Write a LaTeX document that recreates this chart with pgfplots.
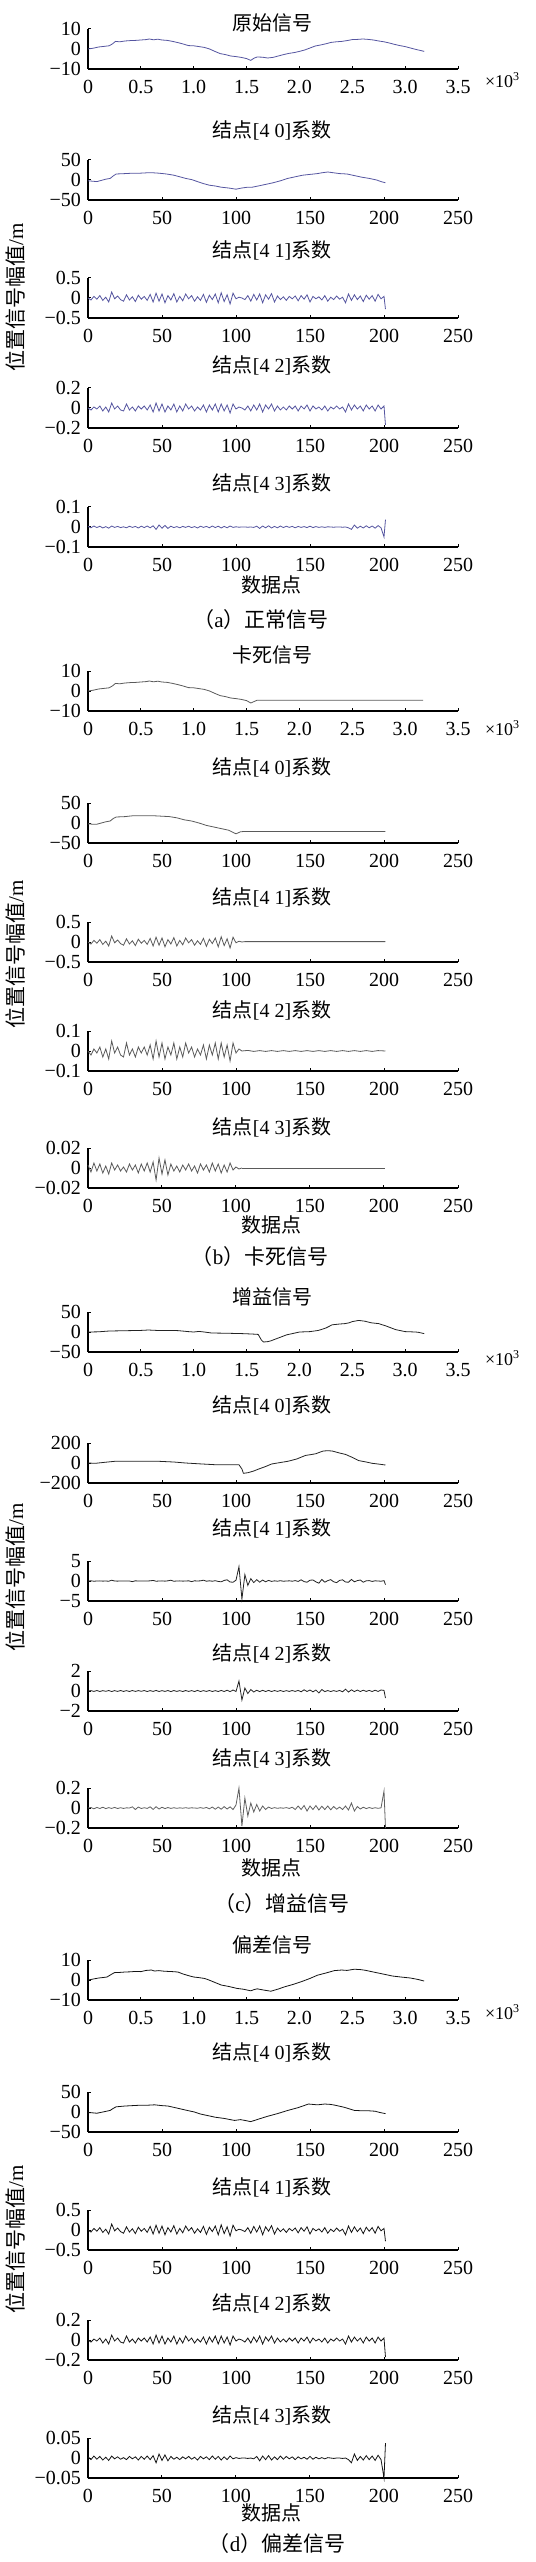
\documentclass[border=0pt]{standalone}
\usepackage{pgfplots}
\usepackage{pgfplotstable}
\pgfplotsset{compat=1.18}
\usepackage{fontspec}
\setmainfont{Liberation Serif}
\newfontfamily\cjk{Noto Sans CJK SC}

\definecolor{acol}{RGB}{85,85,160}
\definecolor{bcol}{RGB}{90,90,90}
\definecolor{ccol}{RGB}{35,35,35}
\definecolor{c5col}{RGB}{95,95,95}
\definecolor{dcol}{RGB}{20,20,20}

% coefficients of the detail nodes: x, normal [4 1..3], gain [4 1..3]
\pgfplotstableread{
x a3 a4 a5 c3 c4 c5
0 0.00 0.00 0.003 0.0 0.0 0.0
2 -0.05 -0.02 -0.004 0.05 0.04 0.005
4 0.04 0.01 0.005 -0.05 -0.04 -0.008
6 -0.03 -0.01 -0.003 0.0 0.05 0.006
8 0.06 0.02 0.004 0.03 -0.05 -0.005
10 -0.06 -0.03 -0.005 -0.03 0.04 0.008
12 0.02 0.01 0.002 0.0 -0.03 -0.006
14 -0.10 -0.04 -0.006 -0.05 0.05 0.004
16 0.15 0.05 0.005 0.2 -0.05 -0.004
18 -0.02 -0.01 -0.002 0.0 0.04 0.006
20 0.05 0.02 0.003 -0.03 -0.04 -0.005
22 -0.04 -0.02 -0.003 0.02 0.05 0.003
24 -0.08 -0.03 0.001 0.0 -0.04 -0.004
26 0.08 0.04 -0.004 -0.02 0.04 0.002
28 -0.05 -0.02 0.004 0.0 -0.05 0.0
30 0.03 0.01 -0.002 -0.15 0.05 0.012
32 -0.09 -0.03 0.003 0.05 -0.04 -0.015
34 0.07 0.02 -0.005 0.0 0.04 0.01
36 -0.03 -0.01 0.004 0.02 -0.03 -0.005
38 0.04 0.02 -0.003 -0.02 0.05 0.003
40 -0.06 -0.02 0.005 0.0 -0.05 -0.004
42 0.09 0.03 -0.004 0.05 0.04 0.012
44 -0.10 -0.04 0.006 0.15 -0.04 -0.014
46 0.12 0.05 -0.012 -0.05 0.06 0.013
48 -0.08 -0.03 0.010 0.0 -0.05 -0.01
50 0.10 0.04 -0.006 0.03 0.04 0.008
52 -0.12 -0.04 0.008 -0.03 -0.04 -0.006
54 0.06 0.02 -0.007 0.05 0.05 0.005
56 -0.05 -0.02 0.004 0.2 -0.06 -0.004
58 0.11 0.04 -0.003 -0.05 0.05 0.003
60 -0.10 -0.04 0.002 0.0 -0.04 -0.003
62 0.04 0.02 -0.004 0.03 0.04 0.002
64 -0.07 -0.03 0.003 -0.03 -0.05 -0.002
66 0.10 0.04 -0.002 0.0 0.05 0.003
68 -0.02 -0.01 0.004 0.05 -0.04 -0.002
70 0.06 0.02 -0.003 -0.15 0.04 0.002
72 -0.08 -0.03 0.002 0.05 -0.05 0.0
74 0.03 0.01 -0.005 0.0 0.06 -0.002
76 -0.06 -0.02 0.004 0.05 -0.05 0.004
78 0.09 0.03 -0.002 0.2 0.04 -0.003
80 -0.11 -0.04 0.003 -0.05 -0.04 0.006
82 0.07 0.03 -0.004 0.05 0.05 -0.008
84 -0.04 -0.02 0.005 -0.05 -0.05 0.01
86 0.10 0.04 -0.003 0.08 0.04 -0.012
88 -0.12 -0.04 0.004 -0.1 -0.05 0.01
90 0.13 0.04 -0.005 -0.2 0.06 -0.012
92 -0.09 -0.03 0.003 0.15 -0.05 0.014
94 0.08 0.03 -0.004 0.3 0.08 -0.01
96 -0.15 -0.05 0.005 -0.25 -0.06 0.012
98 0.12 0.04 -0.002 -0.3 0.1 -0.015
100 -0.02 -0.01 0.001 0.2 -0.05 0.03
102 0.02 0.01 -0.001 3.6 1.0 0.2
104 0.00 0.00 0.000 -4.5 -0.9 -0.18
106 -0.04 -0.02 0.000 1.6 0.3 0.1
108 0.06 0.02 -0.001 -1.1 -0.25 -0.08
110 -0.08 -0.03 0.000 0.6 0.15 0.05
112 0.09 0.03 -0.002 -0.4 -0.1 -0.04
114 -0.05 -0.02 0.004 0.35 0.08 0.035
116 0.10 0.04 -0.007 -0.3 -0.06 -0.03
118 -0.12 -0.04 0.005 0.25 0.07 0.02
120 0.08 0.03 -0.004 -0.2 -0.05 -0.015
122 -0.03 -0.01 0.006 0.15 0.06 0.01
124 0.11 0.04 -0.005 -0.1 -0.05 -0.005
126 -0.10 -0.03 0.003 0.05 0.05 0.004
128 0.05 0.02 -0.004 -0.05 -0.04 -0.003
130 -0.04 -0.02 0.005 0.08 0.05 0.002
132 0.03 0.01 -0.003 -0.05 -0.05 -0.002
134 -0.06 -0.02 0.004 0.0 0.04 0.004
136 0.04 0.02 -0.002 0.05 -0.04 -0.004
138 -0.02 -0.01 0.003 -0.05 0.05 0.008
140 0.05 0.02 -0.004 0.1 -0.04 -0.015
142 -0.07 -0.03 0.003 -0.1 0.06 0.02
144 0.06 0.02 -0.002 0.3 -0.08 -0.015
146 -0.03 -0.01 0.002 -0.15 0.12 0.025
148 0.08 0.03 -0.003 -0.3 -0.05 -0.03
150 -0.10 -0.03 0.004 0.2 0.1 0.02
152 0.04 0.02 -0.003 0.25 -0.08 -0.015
154 -0.02 -0.01 0.002 -0.2 0.1 0.025
156 0.03 0.01 -0.002 -0.55 -0.2 -0.02
158 -0.05 -0.02 0.001 0.4 0.15 0.018
160 0.06 0.02 -0.002 -0.3 -0.06 -0.015
162 -0.08 -0.03 0.001 0.1 0.05 0.02
164 0.02 0.01 0.000 0.35 -0.05 -0.018
166 -0.04 -0.01 -0.001 -0.2 0.04 0.015
168 0.05 0.02 0.000 -0.4 -0.04 -0.012
170 -0.03 -0.01 0.000 0.15 0.06 0.01
172 0.02 0.01 -0.001 0.3 -0.08 -0.015
174 -0.12 -0.04 0.000 -0.25 0.18 0.02
176 0.10 0.04 -0.004 -0.3 -0.1 -0.02
178 -0.06 -0.02 -0.012 0.4 0.12 0.05
180 0.08 0.03 0.010 -0.2 -0.06 -0.03
182 -0.04 -0.01 -0.006 0.1 0.1 0.015
184 0.05 0.02 0.004 0.25 -0.05 -0.01
186 -0.09 -0.03 -0.005 -0.3 0.08 0.008
188 0.07 0.03 0.006 0.05 -0.04 -0.006
190 -0.03 -0.01 -0.004 0.1 0.06 0.005
192 0.06 0.02 0.005 -0.1 -0.05 -0.004
194 -0.08 -0.03 -0.006 0.05 0.08 0.003
196 0.09 0.03 0.007 0.0 -0.04 -0.003
198 -0.02 -0.01 -0.004 -0.05 0.1 0.002
200 0.04 0.02 -0.05 0.1 0.06 0.17
201 -0.28 -0.17 0.037 -0.9 -0.7 -0.2
}\coef

\pgfplotsset{
  sub/.style={
    scale only axis, width=185pt, height=20pt, anchor=south west,
    axis x line=bottom, axis y line=left,
    axis line style={-, line width=0.6pt},
    tick align=inside, major tick length=1.6pt,
    tick style={line width=0.5pt, black},
    xmin=0, xmax=250, xtick={0,50,100,150,200,250},
    xticklabels={0,50,100,150,200,250},
    scaled x ticks=false, scaled y ticks=false,
    enlargelimits=false, clip=false,
    ticklabel style={font=\fontsize{10}{10}\selectfont},
    xticklabel style={yshift=-2pt},
    every axis plot/.append style={line width=0.4pt},
  },
  first/.style={sub, xmax=3.5, xtick={0,0.5,1,1.5,2,2.5,3,3.5},
    xticklabels={0,0.5,1.0,1.5,2.0,2.5,3.0,3.5}},
}
\newcommand{\jd}[1]{{\cjk 结点}[4 #1]{\cjk 系数}}
\newcommand{\ttl}[2]{\node[font=\fontsize{10}{12}\selectfont] at (136pt,#1pt) {#2};}

\begin{document}
\begin{tikzpicture}
\path[use as bounding box] (0,0) rectangle (267.5pt,-1281pt);

% ---------------- (a) normal
\ttl{-11.5}{\cjk 原始信号}
\begin{axis}[first, at={(44pt,-34.5pt)}, ymin=-10, ymax=10, ytick={-10,0,10}, yticklabels={−10,0,10}]
\addplot[acol] coordinates {(0,0) (0.05,0.4) (0.1,1.0) (0.15,1.3) (0.2,1.6) (0.23,2.5) (0.26,3.8) (0.3,3.6) (0.35,4.0) (0.4,4.2) (0.45,4.3) (0.5,4.5) (0.55,4.7) (0.58,5.0) (0.62,4.6) (0.66,4.9) (0.7,4.5) (0.75,4.3) (0.8,3.8) (0.85,3.2) (0.9,2.5) (0.95,1.7) (1.0,1.6) (1.05,1.2) (1.1,0.8) (1.15,0) (1.2,-1.2) (1.25,-2.3) (1.3,-2.8) (1.35,-3.5) (1.4,-3.8) (1.45,-4.2) (1.5,-4.8) (1.54,-5.7) (1.57,-4.6) (1.6,-4.0) (1.65,-4.1) (1.7,-4.5) (1.75,-4.2) (1.8,-3.5) (1.85,-2.8) (1.9,-2.2) (1.95,-1.8) (2.0,-1.2) (2.05,-0.5) (2.1,0.5) (2.15,1.5) (2.2,2.0) (2.25,2.6) (2.3,3.3) (2.35,3.6) (2.4,3.8) (2.45,4.2) (2.5,4.7) (2.55,4.8) (2.6,5.0) (2.65,4.8) (2.7,4.5) (2.75,4.0) (2.8,3.6) (2.85,3.0) (2.9,2.3) (2.95,1.7) (3.0,1.2) (3.05,0.5) (3.1,-0.2) (3.15,-0.8) (3.18,-1.2)};
\end{axis}
\node[anchor=west, font=\fontsize{9}{9}\selectfont] at (239pt,-40pt) {×10\textsuperscript{3}};

\ttl{-65}{\jd{0}}
\begin{axis}[sub, at={(44pt,-100pt)}, ymin=-50, ymax=50, ytick={-50,0,50}, yticklabels={−50,0,50}]
\addplot[acol] coordinates {(0,-2) (3,-3) (6,-4) (9,-1) (12,2) (15,4) (17,10) (19,15) (25,16) (30,17) (35,17) (40,18) (44,18) (48,17) (53,15) (58,12) (62,8) (66,4) (70,1) (74,-4) (78,-9) (82,-13) (86,-15) (90,-18) (95,-20) (100,-23) (104,-20) (108,-18) (111,-18) (115,-15) (120,-11) (125,-7) (130,-2) (135,4) (140,8) (145,12) (150,14) (155,16) (158,18) (162,20) (166,18) (170,16) (175,15) (180,11) (185,7) (190,4) (195,0) (198,-4) (201,-7)};
\end{axis}

\ttl{-125}{\jd{1}}
\begin{axis}[sub, at={(44pt,-159pt)}, ymin=-0.5, ymax=0.5, ytick={-0.5,0,0.5}, yticklabels={−0.5,0,0.5}]
\addplot[acol] table[x=x, y=a3] {\coef};
\end{axis}

\ttl{-182.5}{\jd{2}}
\begin{axis}[sub, at={(44pt,-214pt)}, ymin=-0.2, ymax=0.2, ytick={-0.2,0,0.2}, yticklabels={−0.2,0,0.2}]
\addplot[acol] table[x=x, y=a4] {\coef};
\end{axis}

\ttl{-241.5}{\jd{3}}
\begin{axis}[sub, at={(44pt,-273.5pt)}, ymin=-0.1, ymax=0.1, ytick={-0.1,0,0.1}, yticklabels={−0.1,0,0.1}]
\addplot[acol] table[x=x, y=a5] {\coef};
\end{axis}
\node[font=\fontsize{10}{12}\selectfont] at (135.5pt,-292.5pt) {\cjk 数据点};
\node[font=\fontsize{10.5}{12}\selectfont] at (130.5pt,-310pt) {{\cjk （}a{\cjk ）正常信号}};
\node[rotate=90, font=\fontsize{10.5}{12}\selectfont] at (7.5pt,-148.5pt) {{\cjk 位置信号幅值}/m};

% ---------------- (b) stuck
\ttl{-327.5}{\cjk 卡死信号}
\begin{axis}[first, at={(44pt,-355.5pt)}, ymin=-10, ymax=10, ytick={-10,0,10}, yticklabels={−10,0,10}]
\addplot[bcol] coordinates {(0,0) (0.05,0.4) (0.1,1.0) (0.15,1.3) (0.2,1.6) (0.23,2.5) (0.26,3.8) (0.3,3.6) (0.35,4.0) (0.4,4.2) (0.45,4.3) (0.5,4.5) (0.55,4.7) (0.58,5.0) (0.62,4.6) (0.66,4.9) (0.7,4.5) (0.75,4.3) (0.8,3.8) (0.85,3.2) (0.9,2.5) (0.95,1.7) (1.0,1.6) (1.05,1.2) (1.1,0.8) (1.15,0) (1.2,-1.2) (1.25,-2.3) (1.3,-2.8) (1.35,-3.5) (1.4,-3.8) (1.45,-4.2) (1.5,-4.8) (1.54,-6.0) (1.6,-4.6) (3.17,-4.6)};
\end{axis}
\node[anchor=west, font=\fontsize{9}{9}\selectfont] at (239pt,-364pt) {×10\textsuperscript{3}};

\ttl{-383.5}{\jd{0}}
\begin{axis}[sub, at={(44pt,-421.5pt)}, ymin=-50, ymax=50, ytick={-50,0,50}, yticklabels={−50,0,50}]
\addplot[bcol] coordinates {(0,-2) (3,-3) (6,-3) (9,0) (12,3) (15,5) (17,11) (19,15) (25,16) (30,18) (35,18) (40,18) (45,18) (50,17) (55,16) (60,13) (65,8) (70,5) (75,0) (80,-6) (85,-10) (90,-14) (95,-18) (100,-27) (103,-22) (106,-21) (201,-21)};
\end{axis}

\ttl{-448.5}{\jd{1}}
\begin{axis}[sub, at={(44pt,-481pt)}, ymin=-0.5, ymax=0.5, ytick={-0.5,0,0.5}, yticklabels={−0.5,0,0.5}]
\addplot[bcol, restrict x to domain=0:104] table[x=x, y=a3] {\coef};
\addplot[bcol] coordinates {(104,0) (106,0.01) (201,0.01)};
\end{axis}

\ttl{-505}{\jd{2}}
\begin{axis}[sub, at={(44pt,-535.5pt)}, ymin=-0.1, ymax=0.1, ytick={-0.1,0,0.1}, yticklabels={−0.1,0,0.1}]
\addplot[bcol, restrict x to domain=0:104] table[x=x, y=a4] {\coef};
\addplot[bcol] coordinates {(104,0) (108,0.003) (112,-0.002) (116,0.002) (120,-0.002) (124,0.002) (128,-0.002) (132,0.002) (136,-0.002) (140,0.002) (144,-0.002) (148,0.002) (152,-0.002) (156,0.002) (160,-0.002) (164,0.002) (168,-0.002) (172,0.002) (176,-0.002) (180,0.002) (184,-0.002) (188,0.002) (192,-0.002) (196,0.002) (201,0)};
\end{axis}

\ttl{-563.5}{\jd{3}}
\begin{axis}[sub, at={(44pt,-594pt)}, ymin=-0.02, ymax=0.02, ytick={-0.02,0,0.02}, yticklabels={−0.02,0,0.02}]
\addplot[bcol, restrict x to domain=0:104] table[x=x, y=a5] {\coef};
\addplot[bcol] coordinates {(104,0) (201,0)};
\end{axis}
\node[font=\fontsize{10}{12}\selectfont] at (135.5pt,-612.5pt) {\cjk 数据点};
\node[font=\fontsize{10.5}{12}\selectfont] at (130pt,-628.5pt) {{\cjk （}b{\cjk ）卡死信号}};
\node[rotate=90, font=\fontsize{10.5}{12}\selectfont] at (7.5pt,-477pt) {{\cjk 位置信号幅值}/m};

% ---------------- (c) gain
\ttl{-648.5}{\cjk 增益信号}
\begin{axis}[first, at={(44pt,-676pt)}, ymin=-50, ymax=50, ytick={-50,0,50}, yticklabels={−50,0,50}]
\addplot[ccol] coordinates {(0,0) (0.1,0.5) (0.2,2.5) (0.3,3) (0.4,3.5) (0.5,4) (0.57,5) (0.65,4) (0.73,4) (0.85,3.5) (0.95,1) (1.0,0) (1.05,1.5) (1.1,0) (1.17,-2.5) (1.3,-3) (1.46,-4) (1.55,-5) (1.61,-6) (1.64,-20) (1.66,-25) (1.7,-24) (1.73,-22) (1.8,-15) (1.88,-7) (1.95,-3) (2.0,0) (2.1,1) (2.18,4) (2.25,10) (2.31,18) (2.38,20) (2.43,21) (2.47,23) (2.5,26) (2.56,29) (2.62,27) (2.68,23) (2.75,21) (2.82,15) (2.91,6) (3.0,1) (3.1,0) (3.13,-1) (3.18,-4)};
\end{axis}
\node[anchor=west, font=\fontsize{9}{9}\selectfont] at (239pt,-679pt) {×10\textsuperscript{3}};

\ttl{-702.5}{\jd{0}}
\begin{axis}[sub, at={(44pt,-741.5pt)}, ymin=-200, ymax=200, ytick={-200,0,200}, yticklabels={−200,0,200}]
\addplot[ccol] coordinates {(0,0) (5,-3) (10,5) (18,17) (30,17) (48,17) (58,10) (66,0) (75,-8) (86,-17) (95,-17) (102,-17) (104,-60) (105,-103) (108,-97) (112,-80) (115,-62) (120,-35) (124,-10) (130,5) (135,17) (141,40) (147,76) (151,85) (154,93) (157,110) (159,120) (162,123) (165,120) (170,100) (174,86) (178,60) (183,24) (188,10) (192,-3) (196,-10) (201,-20)};
\end{axis}

\ttl{-764}{\jd{1}}
\begin{axis}[sub, at={(44pt,-800.5pt)}, ymin=-5, ymax=5, ytick={-5,0,5}, yticklabels={−5,0,5}]
\addplot[ccol] table[x=x, y=c3] {\coef};
\end{axis}

\ttl{-826.5}{\jd{2}}
\begin{axis}[sub, at={(44pt,-855.5pt)}, ymin=-2, ymax=2, ytick={-2,0,2}, yticklabels={−2,0,2}]
\addplot[ccol] table[x=x, y=c4] {\coef};
\end{axis}

\ttl{-879}{\jd{3}}
\begin{axis}[sub, at={(44pt,-914pt)}, ymin=-0.2, ymax=0.2, ytick={-0.2,0,0.2}, yticklabels={−0.2,0,0.2}]
\addplot[c5col] table[x=x, y=c5] {\coef};
\end{axis}
\node[font=\fontsize{10}{12}\selectfont] at (135.5pt,-934pt) {\cjk 数据点};
\node[font=\fontsize{10.5}{12}\selectfont] at (141pt,-951.5pt) {{\cjk （}c{\cjk ）增益信号}};
\node[rotate=90, font=\fontsize{10.5}{12}\selectfont] at (7.5pt,-788.5pt) {{\cjk 位置信号幅值}/m};

% ---------------- (d) bias
\ttl{-972.5}{\cjk 偏差信号}
\begin{axis}[first, at={(44pt,-1000pt)}, ymin=-10, ymax=10, ytick={-10,0,10}, yticklabels={−10,0,10}]
\addplot[dcol] coordinates {(0,0) (0.05,0.5) (0.1,1.0) (0.15,1.3) (0.18,1.5) (0.22,2.8) (0.25,3.7) (0.3,3.8) (0.35,4.0) (0.4,4.1) (0.45,4.3) (0.5,4.2) (0.55,4.8) (0.6,5.0) (0.63,4.5) (0.67,4.7) (0.72,4.4) (0.8,4.2) (0.85,4.0) (0.9,3.0) (0.95,2.2) (1.0,1.5) (1.05,1.2) (1.1,0.8) (1.13,0.3) (1.2,-1.2) (1.26,-2.5) (1.33,-3.2) (1.41,-4.2) (1.47,-4.6) (1.54,-5.4) (1.57,-4.8) (1.6,-4.4) (1.66,-5.0) (1.73,-5.6) (1.8,-4.5) (1.86,-3.4) (1.94,-2.2) (2.02,-0.8) (2.1,0.8) (2.17,2.4) (2.25,3.5) (2.33,4.7) (2.4,5.0) (2.45,4.8) (2.52,5.4) (2.58,5.2) (2.62,4.9) (2.7,4.0) (2.8,2.9) (2.88,2.0) (2.96,1.5) (3.05,1.0) (3.12,0.3) (3.18,-0.5)};
\end{axis}
\node[anchor=west, font=\fontsize{9}{9}\selectfont] at (239pt,-1006pt) {×10\textsuperscript{3}};

\ttl{-1026}{\jd{0}}
\begin{axis}[sub, at={(44pt,-1066pt)}, ymin=-50, ymax=50, ytick={-50,0,50}, yticklabels={−50,0,50}]
\addplot[dcol] coordinates {(0,-2) (3,-2) (6,-3) (10,0) (15,4) (17,9) (19,13) (25,15) (30,16) (35,17) (40,17) (45,18) (50,16) (54,15) (60,10) (67,4) (72,0) (76,-5) (81,-9) (86,-13) (92,-16) (99,-21) (103,-19) (106,-21) (110,-24) (115,-18) (121,-11) (128,-4) (135,4) (142,11) (149,20) (155,18) (160,20) (164,19) (167,17) (173,12) (180,4) (186,3) (190,3) (194,2) (197,-1) (201,-4)};
\end{axis}

\ttl{-1093.5}{\jd{1}}
\begin{axis}[sub, at={(44pt,-1125pt)}, ymin=-0.5, ymax=0.5, ytick={-0.5,0,0.5}, yticklabels={−0.5,0,0.5}]
\addplot[dcol] table[x=x, y=a3] {\coef};
\end{axis}

\ttl{-1151.5}{\jd{2}}
\begin{axis}[sub, at={(44pt,-1180pt)}, ymin=-0.2, ymax=0.2, ytick={-0.2,0,0.2}, yticklabels={−0.2,0,0.2}]
\addplot[dcol] table[x=x, y=a4] {\coef};
\end{axis}

\ttl{-1207.5}{\jd{3}}
\begin{axis}[sub, at={(44pt,-1239pt)}, ymin=-0.05, ymax=0.05, ytick={-0.05,0,0.05}, yticklabels={−0.05,0,0.05}]
\addplot[dcol] table[x=x, y=a5] {\coef};
\end{axis}
\node[font=\fontsize{10}{12}\selectfont] at (135.5pt,-1256.5pt) {\cjk 数据点};
\node[font=\fontsize{10.5}{12}\selectfont] at (138.5pt,-1271.5pt) {{\cjk （}d{\cjk ）偏差信号}};
\node[rotate=90, font=\fontsize{10.5}{12}\selectfont] at (7.5pt,-1119.5pt) {{\cjk 位置信号幅值}/m};

\end{tikzpicture}
\end{document}
